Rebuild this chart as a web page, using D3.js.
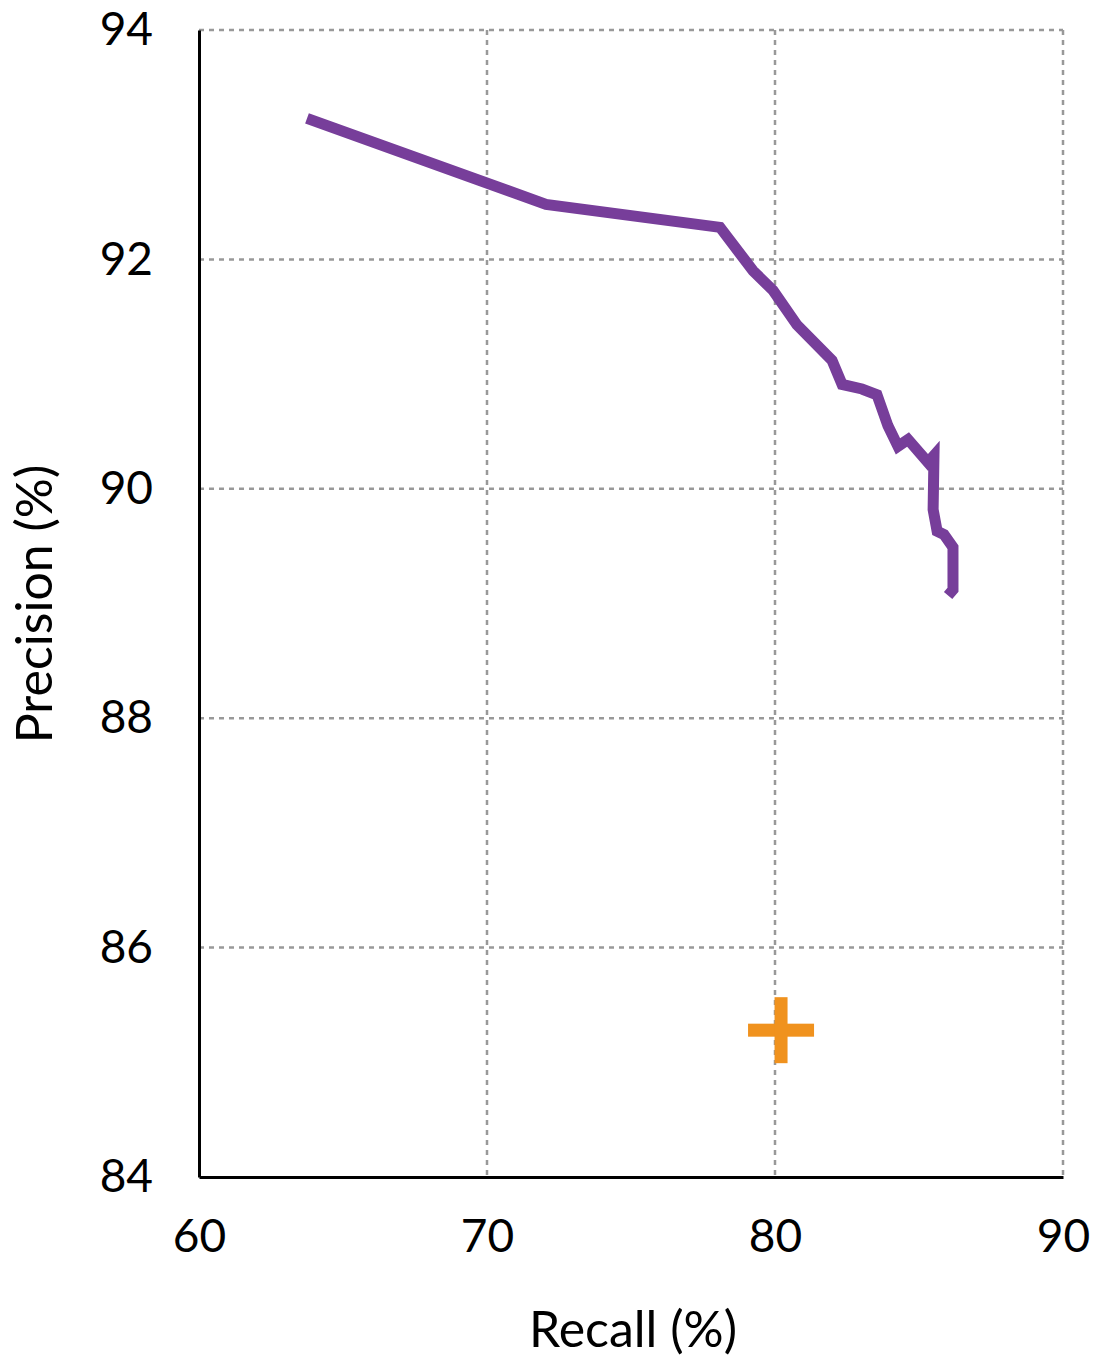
<html>
<script src='https://d3js.org/d3.v7.min.js'></script>
<style>
body {margin:0; background:#fff;}
text {font-family: Lato, "Open Sans", sans-serif; fill:#000;}
</style>
<body>
<svg width=1096 height=1358></svg>
<script>
// precision / recall curve
var recall = [63.75, 72.05, 78.09, 79.24, 79.93, 80.76, 81.98, 82.33, 83.02, 83.54, 83.92, 84.27, 84.62, 85.31, 85.52, 85.49, 85.63, 85.87, 86.18, 86.18, 86.01];
var precision = [93.23, 92.48, 92.28, 91.90, 91.73, 91.43, 91.12, 90.91, 90.87, 90.82, 90.55, 90.37, 90.43, 90.23, 90.29, 89.82, 89.63, 89.60, 89.49, 89.12, 89.07];
// single point (cross)
var pointRecall = [80.21];
var pointPrecision = [85.28];

var xTicks = [60, 70, 80, 90];
var yTicks = [84, 86, 88, 90, 92, 94];

var plotLeft = 199, plotRight = 1063, plotTop = 30, plotBottom = 1177;

var x = d3.scaleLinear().domain([60, 90]).range([plotLeft, plotRight]);
var y = d3.scaleLinear().domain([84, 94]).range([plotBottom, plotTop]);

var svg = d3.select("svg");

// grid
svg.append("g").selectAll("line").data(xTicks.slice(1)).enter().append("line")
	.attr("x1", d => x(d)).attr("x2", d => x(d))
	.attr("y1", plotTop).attr("y2", plotBottom)
	.attr("stroke", "#999").attr("stroke-width", 2.5).attr("stroke-dasharray", "5,5");
svg.append("g").selectAll("line").data(yTicks.slice(1)).enter().append("line")
	.attr("y1", d => y(d)).attr("y2", d => y(d))
	.attr("x1", plotLeft).attr("x2", plotRight)
	.attr("stroke", "#999").attr("stroke-width", 2.5).attr("stroke-dasharray", "5,5");

// axes
svg.append("g").attr("transform", "translate(0," + plotBottom + ")")
	.call(d3.axisBottom(x).tickValues(xTicks).tickSize(0).tickPadding(42))
	.call(g => g.select(".domain").attr("stroke", "#000").attr("stroke-width", 3))
	.selectAll("text").style("font-size", "46px").attr("fill", "#000")
	.style("font-family", "Lato, sans-serif");

svg.append("g").attr("transform", "translate(" + plotLeft + ",0)")
	.call(d3.axisLeft(y).tickValues(yTicks).tickSize(0).tickPadding(46))
	.call(g => g.select(".domain").attr("stroke", "#000").attr("stroke-width", 3))
	.selectAll("text").style("font-size", "46px").attr("fill", "#000")
	.style("font-family", "Lato, sans-serif");

// curve
var line = d3.line().x((d, i) => x(recall[i])).y((d, i) => y(precision[i]));
svg.append("path").datum(recall)
	.attr("d", line)
	.attr("fill", "none")
	.attr("stroke", "#773e9a")
	.attr("stroke-width", 11)
	.attr("stroke-linejoin", "miter");

// cross
var cross = svg.append("g").selectAll("g").data(pointRecall).enter().append("g")
	.attr("transform", (d, i) => "translate(" + x(d) + "," + y(pointPrecision[i]) + ")");
cross.append("rect").attr("x", -33).attr("y", -6.5).attr("width", 66).attr("height", 13).attr("fill", "#f0921e");
cross.append("rect").attr("x", -6.5).attr("y", -33).attr("width", 13).attr("height", 66).attr("fill", "#f0921e");

// titles
svg.append("text").attr("x", 633).attr("y", 1347).attr("text-anchor", "middle")
	.style("font-size", "50px").text("Recall (%)");
svg.append("text").attr("transform", "translate(52,604) rotate(-90)").attr("text-anchor", "middle")
	.style("font-size", "50px").text("Precision (%)");
</script>
</body>
</html>
